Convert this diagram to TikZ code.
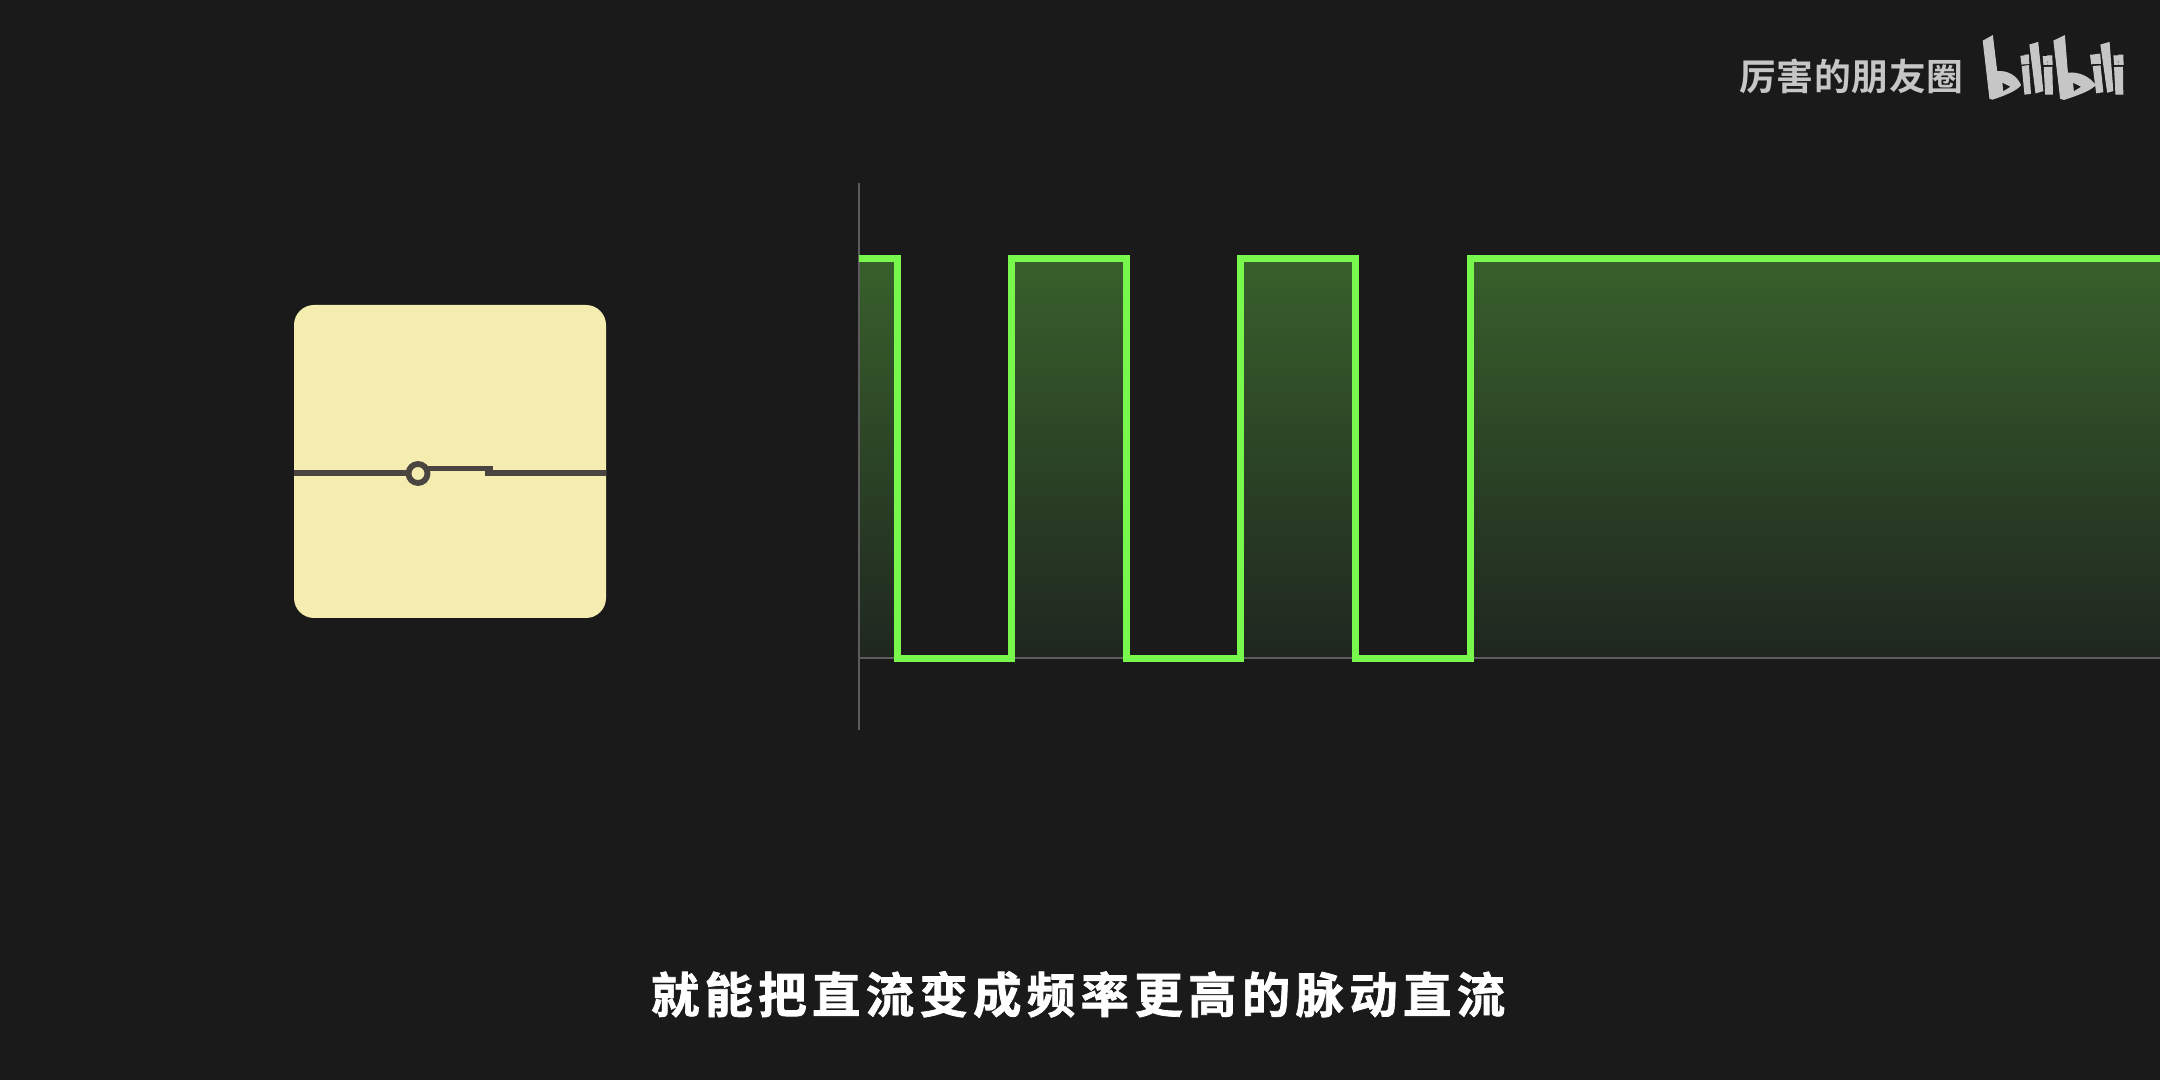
\documentclass[tikz,border=0pt]{standalone}
\usepackage{fontspec}
\newfontfamily\subfont[LetterSpace=11,FakeBold=1.5]{Noto Sans CJK SC Bold}
\newfontfamily\markfont[LetterSpace=2]{Noto Sans CJK SC Bold}
\definecolor{bgc}{HTML}{1A1A1A}
\definecolor{cardc}{HTML}{F5EDAF}
\definecolor{inkc}{HTML}{4A4540}
\definecolor{wavec}{HTML}{78F84C}
\definecolor{axisc}{HTML}{5C5C5C}
\definecolor{fadetop}{HTML}{38602B}
\definecolor{fademid}{HTML}{2C4524}
\definecolor{fadebot}{HTML}{1F2720}
\definecolor{markc}{HTML}{C6C6C6}
\tikzset{
  card/.style={fill=cardc,rounded corners=10pt},
  ink/.style={draw=inkc,line width=3.2pt},
  axisline/.style={draw=axisc,line width=1pt},
  wave/.style={draw=wavec,line width=3.5pt,miter limit=10},
  logo/.style={fill=markc,draw=markc,line width=0.6pt,even odd rule},
}
\begin{document}
\begin{tikzpicture}[x=0.5pt,y=-0.5pt]
\useasboundingbox (0,0) rectangle (2160,1080);
\fill[bgc] (0,0) rectangle (2160,1080);
% switch card
\fill[card] (294,305) rectangle (606,618);
\draw[ink] (294,473) -- (409,473);
\draw[ink] (485,473) -- (606,473);
\draw[ink,line width=2.9pt] (427,468.5) -- (493,468.5);
\fill[inkc] (485,466) rectangle (493,475);
\draw[ink,line width=2.9pt] (418,473.5) circle (9.5);
% plot fill
\shade[top color=fadetop,middle color=fademid,bottom color=fadebot]
  (859,258) rectangle (897,658)
  (1011,258) rectangle (1126,658)
  (1240,258) rectangle (1355,658)
  (1470,258) rectangle (2160,658);
% axes
\draw[axisline] (859,183) -- (859,730);
\draw[axisline] (859,658) -- (2160,658);
% waveform
\draw[wave] (859,258.5) -- (897,258.5) -- (897,658.5) -- (1011,658.5) -- (1011,258.5) -- (1126,258.5) -- (1126,658.5)
  -- (1240,658.5) -- (1240,258.5) -- (1355,258.5) -- (1355,658.5) -- (1470,658.5) -- (1470,258.5) -- (2162,258.5);
% texts
\node[text=white,font=\subfont\fontsize{24.2pt}{26pt}\selectfont,inner sep=0pt] (subtitle) at (1078,994.5) {就能把直流变成频率更高的脉动直流};
\node[text=markc,font=\markfont\fontsize{18.4pt}{20pt}\selectfont,inner sep=0pt] (watermark) at (1851.5,76) {厉害的朋友圈};
% logo, first half
\begin{scope}[shift={(1975,30)},x=0.1667pt,y=-0.1667pt]
\fill[logo] (25,33) -- (52,18) -- (65,125) .. controls (100,122) and (125,140) .. (136,165) .. controls (125,180) and (90,195) .. (52,207) -- (45,205) -- cycle
  (80,155) -- (110,170) -- (83,187) -- cycle;
\fill[logo] (138,79) -- (147,78) -- (149,101) -- (141,102) -- cycle
  (150,76) -- (160,75) -- (161,100) -- (152,101) -- cycle
  (142,110) -- (160,107) -- (166,190) -- (150,192) -- cycle
  (165,45) -- (188,38) -- (203,182) -- (183,188) -- cycle
  (205,80) -- (214,80) -- (215,103) -- (207,103) -- cycle
  (218,78) -- (230,78) -- (231,103) -- (220,103) -- cycle
  (208,113) -- (230,112) -- (232,192) -- (212,192) -- cycle;
\end{scope}
\begin{scope}[shift={(2040,30)},x=0.1667pt,y=-0.1667pt]
\fill[logo] (42,33) -- (73,18) -- (82,130) .. controls (120,125) and (150,145) .. (165,165) .. controls (150,182) and (110,195) .. (72,208) -- (62,205) -- cycle
  (97,155) -- (127,170) -- (100,187) -- cycle;
\fill[logo] (152,76) -- (164,75) -- (166,100) -- (155,101) -- cycle
  (167,74) -- (179,73) -- (181,100) -- (170,100) -- cycle
  (160,110) -- (180,108) -- (188,185) -- (170,188) -- cycle
  (183,45) -- (207,38) -- (218,182) -- (203,186) -- cycle
  (222,78) -- (232,78) -- (233,103) -- (224,103) -- cycle
  (236,76) -- (248,76) -- (249,103) -- (238,103) -- cycle
  (224,113) -- (247,112) -- (248,192) -- (228,192) -- cycle;
\end{scope}
\end{tikzpicture}
\end{document}
